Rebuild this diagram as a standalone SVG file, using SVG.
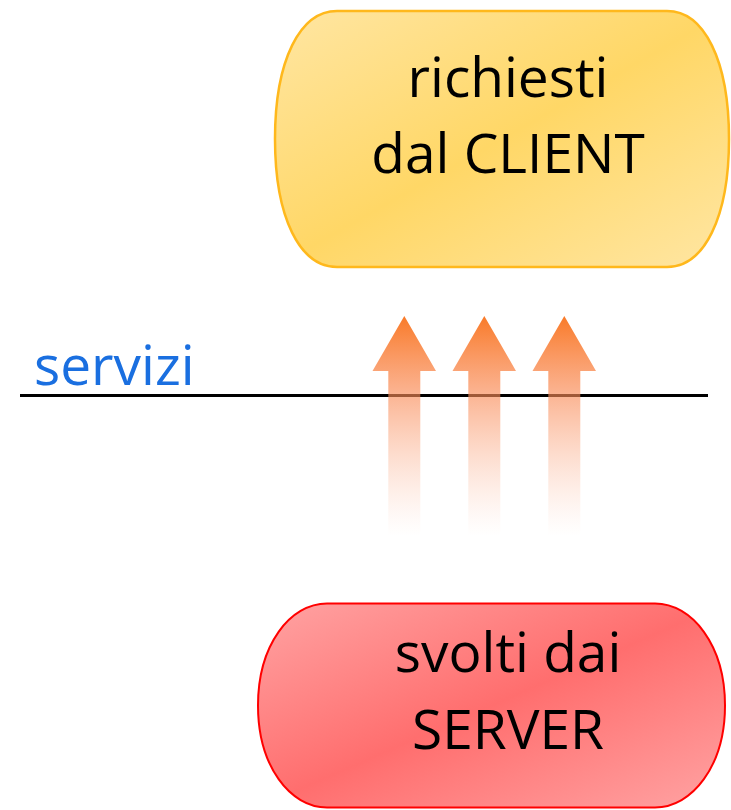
<svg xmlns="http://www.w3.org/2000/svg" width="731" height="810" viewBox="0 0 731 810">
  <defs>
    <linearGradient id="gYellow" x1="0" y1="0" x2="1" y2="1">
      <stop offset="0" stop-color="#FFE6A3"/>
      <stop offset="0.5" stop-color="#FFD766"/>
      <stop offset="1" stop-color="#FFE6A3"/>
    </linearGradient>
    <linearGradient id="gRed" x1="0" y1="0" x2="1" y2="1">
      <stop offset="0" stop-color="#FFA3A3"/>
      <stop offset="0.5" stop-color="#FF6E6E"/>
      <stop offset="1" stop-color="#FFA3A3"/>
    </linearGradient>
    <linearGradient id="gArrow" gradientUnits="userSpaceOnUse" x1="0" y1="316" x2="0" y2="536">
      <stop offset="0" stop-color="#F97A28" stop-opacity="1"/>
      <stop offset="0.35" stop-color="#F98A55" stop-opacity="0.65"/>
      <stop offset="1" stop-color="#FBC0A8" stop-opacity="0"/>
    </linearGradient>
  </defs>
  <style>
    .label { font-family: "Open Sans", "Liberation Sans", sans-serif; font-size: 55px; fill: #000000; text-anchor: middle; }
    .side { font-family: "Open Sans", "Liberation Sans", sans-serif; font-size: 55px; fill: #1A6FE0; }
    .arrow { fill: url(#gArrow); }
  </style>
  <rect width="731" height="810" fill="#FFFFFF"/>

  <g id="divider">
    <line x1="20" y1="395.5" x2="708" y2="395.5" stroke="#000000" stroke-width="3"/>
    <text class="side" x="34" y="385">servizi</text>
  </g>

  <g id="connectors">
    <path class="arrow" d="M404.3,316 L436,371 L420.3,371 L420.3,536 L388.3,536 L388.3,371 L372.5,371 Z"/>
    <path class="arrow" d="M484.3,316 L516,371 L500.3,371 L500.3,536 L468.3,536 L468.3,371 L452.5,371 Z"/>
    <path class="arrow" d="M564.3,316 L596,371 L580.3,371 L580.3,536 L548.3,536 L548.3,371 L532.5,371 Z"/>
  </g>

  <g id="client">
    <path d="M337,11 H667 C704,11 729,60 729,139 C729,218 704,267 667,267 H337 C300,267 275,218 275,139 C275,60 300,11 337,11 Z" fill="url(#gYellow)" stroke="#FFB81C" stroke-width="2.5"/>
    <text class="label" x="508" y="97">richiesti</text>
    <text class="label" x="508" y="173">dal CLIENT</text>
  </g>

  <g id="server">
    <path d="M327,603.5 H655 C692,603.5 725,645 725,705.5 C725,766 692,807.5 655,807.5 H327 C290,807.5 258,766 258,705.5 C258,645 290,603.5 327,603.5 Z" fill="url(#gRed)" stroke="#FF0000" stroke-width="2"/>
    <text class="label" x="508" y="672">svolti dai</text>
    <text class="label" x="508" y="749">SERVER</text>
  </g>
</svg>
